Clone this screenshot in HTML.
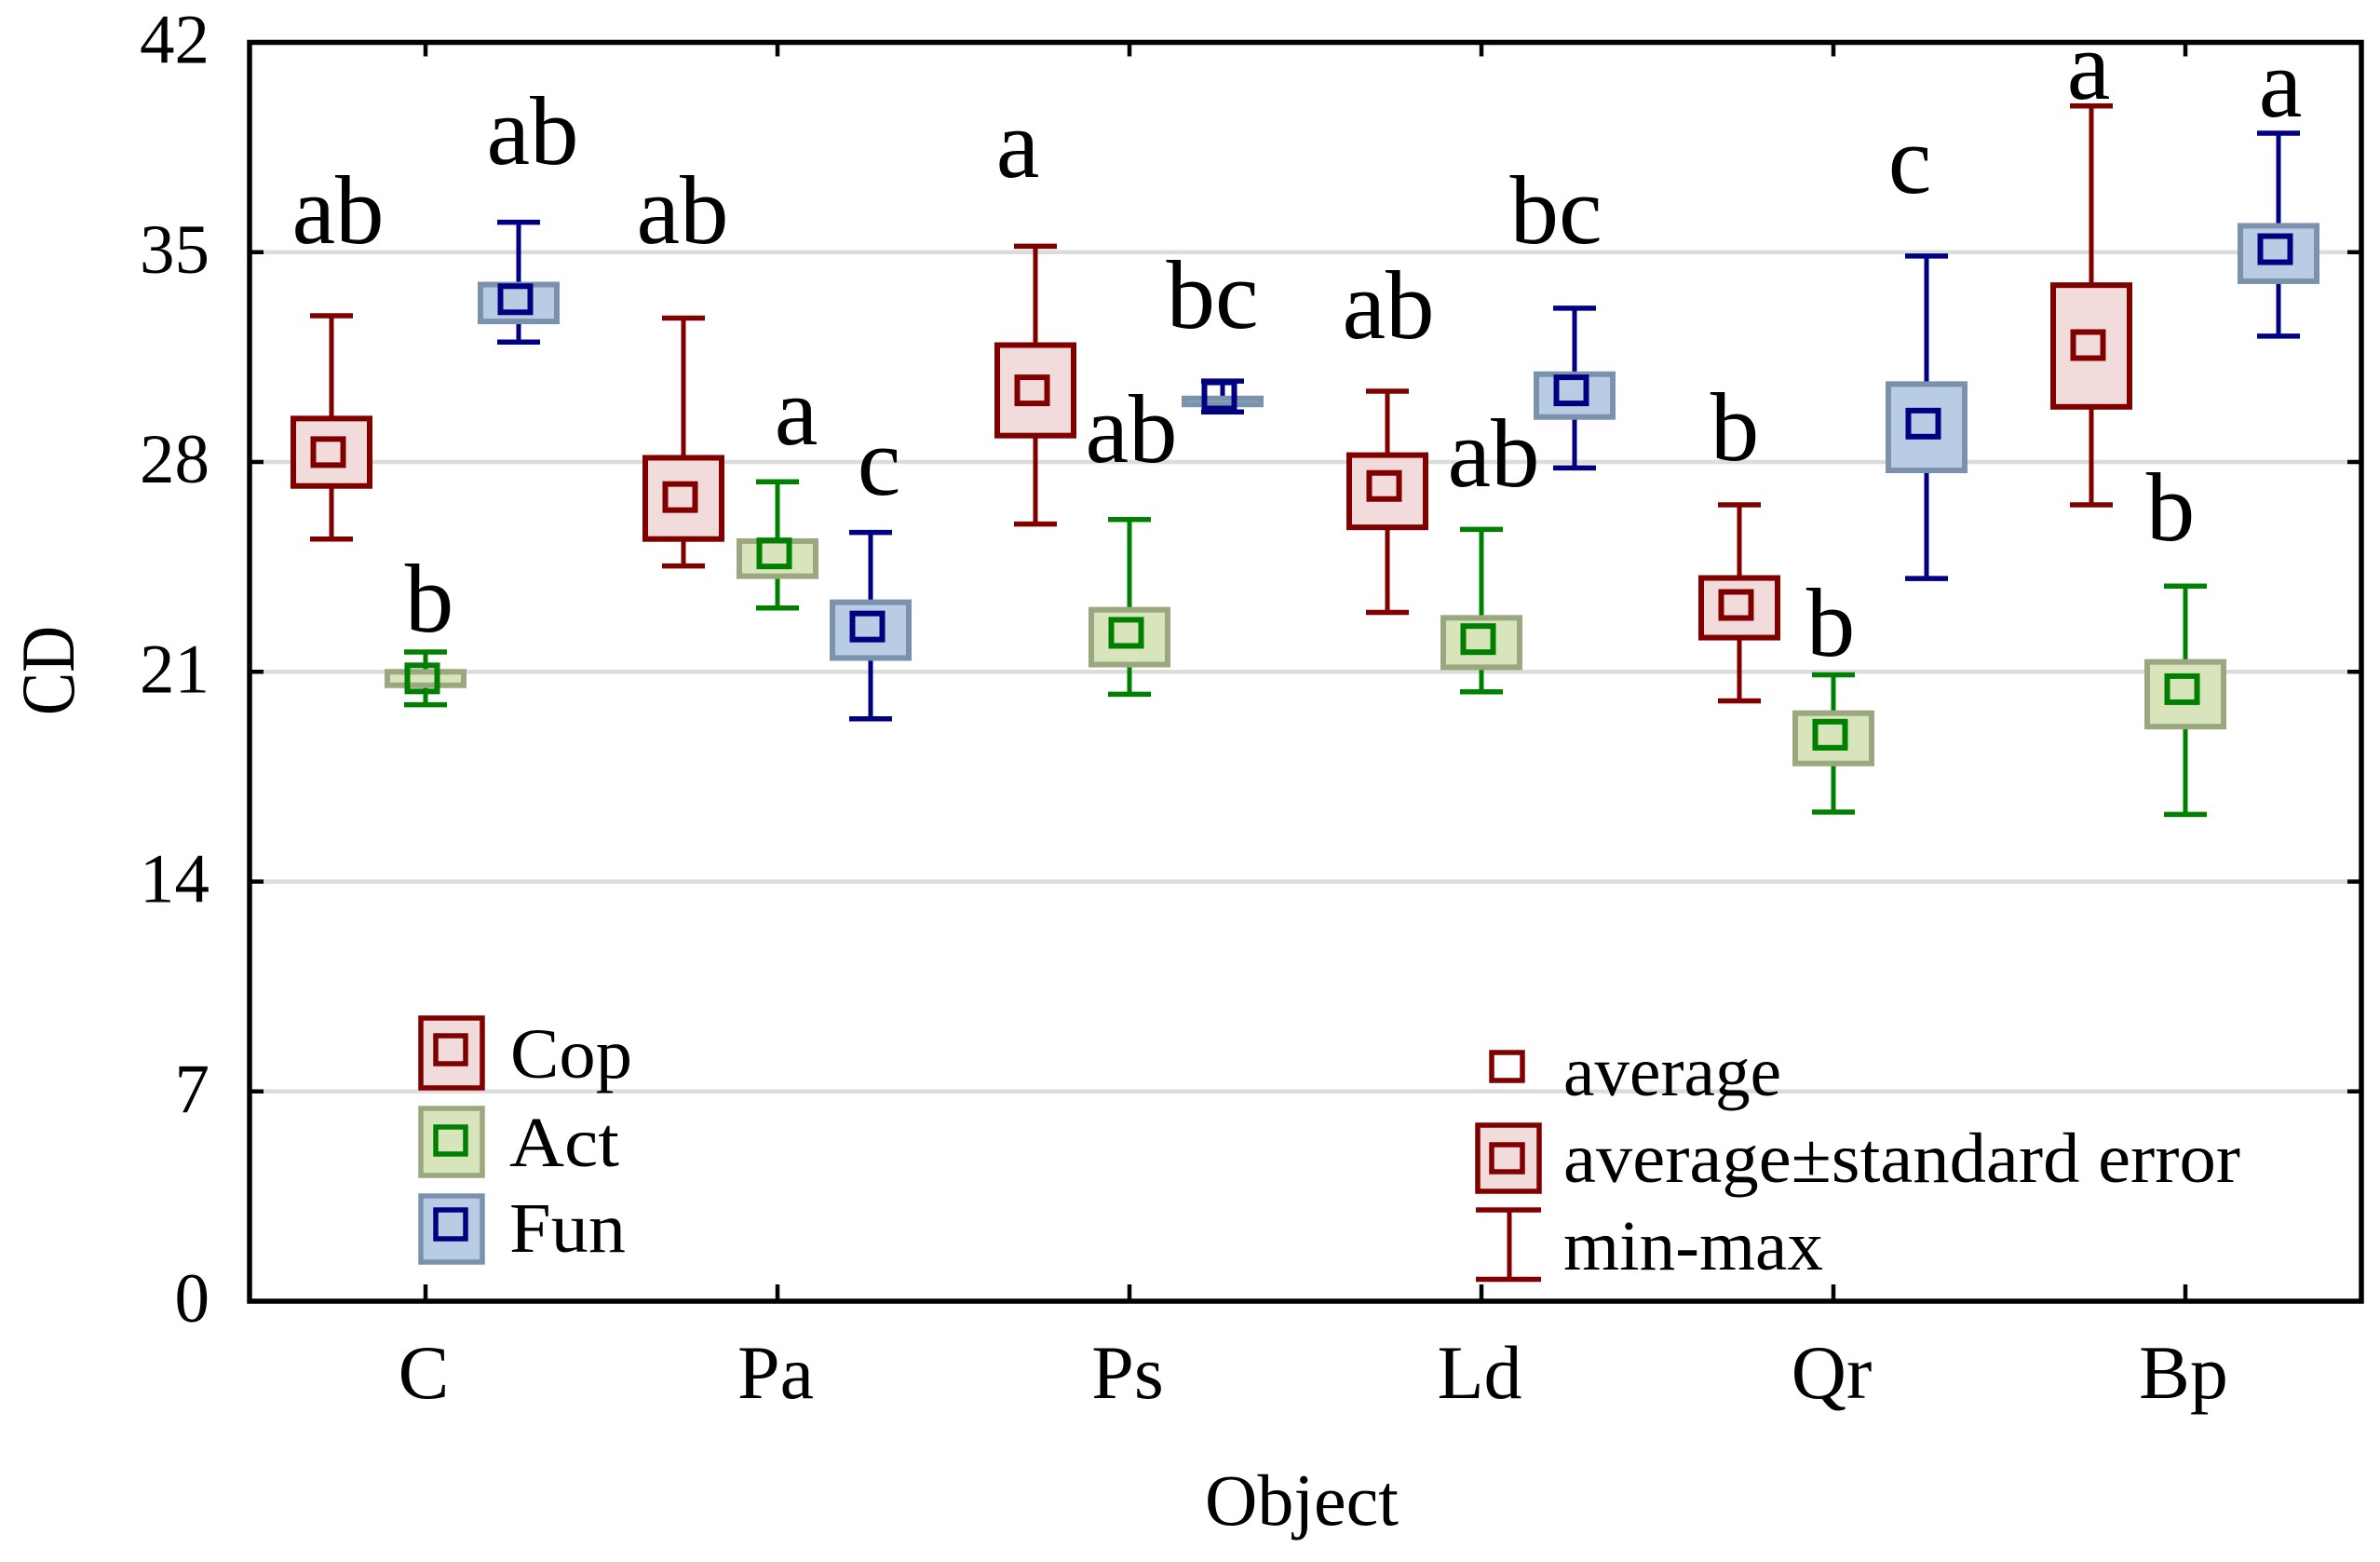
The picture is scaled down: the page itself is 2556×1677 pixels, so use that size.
<!DOCTYPE html>
<html lang="en">
<head>
<meta charset="utf-8">
<title>CD by object</title>
<style>
html,body{margin:0;padding:0;background:#fff;}
svg{display:block;}
text{font-family:"Liberation Serif",serif;fill:#000;}
.tick{font-size:75px;}
.cat{font-size:82px;text-anchor:middle;}
.leg{font-size:76px;}
.sig{font-size:105px;text-anchor:middle;}
</style>
</head>
<body>
<svg id="chart" xmlns="http://www.w3.org/2000/svg" width="2556" height="1677" viewBox="0 0 2556 1677">
  <rect x="0" y="0" width="2556" height="1677" fill="#fff"/>
  <g id="grid"></g>
  <g id="axes"></g>
  <g id="marks"></g>

  <text transform="translate(79,768) rotate(-90)" font-size="82" textLength="96" lengthAdjust="spacingAndGlyphs">CD</text>
  <text x="1294" y="1637" font-size="78" textLength="208" lengthAdjust="spacingAndGlyphs">Object</text>

  <g transform="translate(0,3)">
    <text class="sig" x="363" y="258">ab</text>
    <text class="sig" x="461" y="675">b</text>
    <text class="sig" x="572" y="173">ab</text>
    <text class="sig" x="733" y="258">ab</text>
    <text class="sig" x="855" y="474">a</text>
    <text class="sig" x="944" y="528">c</text>
    <text class="sig" x="1093" y="187">a</text>
    <text class="sig" x="1215" y="493">ab</text>
    <text class="sig" x="1302" y="349">bc</text>
    <text class="sig" x="1491" y="360">ab</text>
    <text class="sig" x="1604" y="519">ab</text>
    <text class="sig" x="1671" y="258">bc</text>
    <text class="sig" x="1863" y="491">b</text>
    <text class="sig" x="1966" y="701">b</text>
    <text class="sig" x="2051" y="204">c</text>
    <text class="sig" x="2243" y="103">a</text>
    <text class="sig" x="2331" y="577">b</text>
    <text class="sig" x="2449" y="122">a</text>
  </g>

  <g>
    <g>
      <rect x="452" y="1093" width="66" height="75" fill="#f2dcdb" stroke="#800000" stroke-width="5.5"/>
      <rect x="468" y="1112" width="32" height="30" fill="none" stroke="#800000" stroke-width="5.5"/>
      <text class="leg" x="548" y="1157" textLength="131" lengthAdjust="spacingAndGlyphs">Cop</text>
    </g>
    <g>
      <rect x="452" y="1190" width="66" height="72" fill="#d8e4bc" stroke="#9aa77f" stroke-width="5.5"/>
      <rect x="468" y="1210" width="32" height="29" fill="none" stroke="#008000" stroke-width="5.5"/>
      <text class="leg" x="547" y="1252" textLength="118" lengthAdjust="spacingAndGlyphs">Act</text>
    </g>
    <g>
      <rect x="452" y="1284" width="66" height="71" fill="#b8cce4" stroke="#7a92ad" stroke-width="5.5"/>
      <rect x="468" y="1299" width="32" height="31" fill="none" stroke="#000080" stroke-width="5.5"/>
      <text class="leg" x="547" y="1344" textLength="125" lengthAdjust="spacingAndGlyphs">Fun</text>
    </g>
  </g>

  <g>
    <g>
      <rect x="1602" y="1130" width="33" height="30" fill="none" stroke="#800000" stroke-width="5.5"/>
      <text class="leg" x="1679" y="1176" textLength="234" lengthAdjust="spacingAndGlyphs">average</text>
    </g>
    <g>
      <rect x="1587" y="1208" width="66" height="71" fill="#f2dcdb" stroke="#800000" stroke-width="5.5"/>
      <rect x="1602" y="1229" width="33" height="29" fill="none" stroke="#800000" stroke-width="5.5"/>
      <text class="leg" x="1679" y="1269" textLength="727" lengthAdjust="spacingAndGlyphs">average±standard error</text>
    </g>
    <g>
      <line x1="1585" x2="1655" y1="1299" y2="1299" stroke="#800000" stroke-width="5.5"/>
      <line x1="1585" x2="1655" y1="1373.5" y2="1373.5" stroke="#800000" stroke-width="5.5"/>
      <line x1="1621" x2="1621" y1="1299" y2="1373.5" stroke="#800000" stroke-width="5"/>
      <text class="leg" x="1679" y="1363" textLength="279" lengthAdjust="spacingAndGlyphs">min-max</text>
    </g>
  </g>
</svg>
<script>
const categories = ['C', 'Pa', 'Ps', 'Ld', 'Qr', 'Bp'];
const yTicks = [0, 7, 14, 21, 28, 35, 42];

const copMean = [28.33, 26.83, 30.39, 27.20, 23.23, 31.90];
const copSeHigh = [29.45, 28.14, 31.90, 28.23, 24.13, 33.90];
const copSeLow = [27.20, 25.43, 28.88, 25.82, 22.14, 29.84];
const copMax = [32.88, 32.80, 35.20, 30.36, 26.57, 39.88];
const copMin = [25.43, 24.53, 25.93, 22.98, 20.03, 26.57];

const actMean = [20.78, 24.95, 22.30, 22.09, 18.90, 20.42];
const actSeHigh = [21.00, 25.36, 23.07, 22.80, 19.62, 21.33];
const actSeLow = [20.55, 24.19, 21.24, 21.15, 17.94, 19.17];
const actMax = [21.66, 27.34, 26.08, 25.75, 20.90, 23.86];
const actMin = [19.90, 23.13, 20.25, 20.33, 16.32, 16.24];

const funMean = [33.43, 22.51, 30.22, 30.39, 29.28, 35.10];
const funSeHigh = [33.92, 23.32, 30.12, 30.93, 30.60, 35.88];
const funSeLow = [32.69, 21.46, 29.92, 29.50, 27.72, 34.03];
const funMax = [36.00, 25.65, 30.70, 33.13, 34.87, 38.97];
const funMin = [32.00, 19.43, 29.67, 27.80, 24.11, 32.20];

const NS = 'http://www.w3.org/2000/svg';
const plot = { left: 268, right: 2536, top: 45.5, bottom: 1397 };
const yMax = 42;

function yScale(v) {
  return plot.bottom - (v / yMax) * (plot.bottom - plot.top);
}
function xScale(i) {
  return plot.left + (i + 0.5) * (plot.right - plot.left) / categories.length;
}
function shape(parent, tag, attrs) {
  const el = document.createElementNS(NS, tag);
  Object.keys(attrs).forEach(function (k) { el.setAttribute(k, attrs[k]); });
  parent.appendChild(el);
  return el;
}

const gridLayer = document.getElementById('grid');
const axisLayer = document.getElementById('axes');
const markLayer = document.getElementById('marks');

yTicks.forEach(function (t) {
  const y = yScale(t);
  if (t > 0 && t < yMax) {
    const g = shape(gridLayer, 'line', { x1: plot.left, x2: plot.right, y1: y, y2: y, stroke: '#dcdcdc', 'stroke-width': 4.5 });
    
    
    const a = shape(axisLayer, 'line', { x1: plot.left, x2: plot.left + 15, y1: y, y2: y, stroke: '#000', 'stroke-width': 4.5 });
    
    
    const b = shape(axisLayer, 'line', { x1: plot.right - 15, x2: plot.right, y1: y, y2: y, stroke: '#000', 'stroke-width': 4.5 });
    
    
  }
  const label = shape(axisLayer, 'text', { x: 225, y: y + 22, class: 'tick', 'text-anchor': 'end' });
  label.textContent = String(t);
  
  
});

categories.forEach(function (c, i) {
  const x = xScale(i);
  const top = shape(axisLayer, 'line', { x1: x, x2: x, y1: plot.top, y2: plot.top + 15, stroke: '#000', 'stroke-width': 4.5 });
  
  
  const bottom = shape(axisLayer, 'line', { x1: x, x2: x, y1: plot.bottom - 18, y2: plot.bottom, stroke: '#000', 'stroke-width': 4.5 });
  
  
  const label = shape(axisLayer, 'text', { x: x - 2, y: 1501, class: 'cat' });
  label.textContent = c;
  
  
});

const frame = shape(axisLayer, 'rect', { x: plot.left, y: plot.top, width: plot.right - plot.left, height: plot.bottom - plot.top, fill: 'none', stroke: '#000', 'stroke-width': 5.5 });



function drawSeries(key, offset, mean, seHigh, seLow, max, min, line, fill, edge) {
  categories.forEach(function (c, i) {
    const x = xScale(i) + offset;
    const group = shape(markLayer, 'g', {});
    
    
    const yMaxPx = yScale(max[i]);
    const yMinPx = yScale(min[i]);
    shape(group, 'line', { x1: x, x2: x, y1: yMaxPx, y2: yMinPx, stroke: line, 'stroke-width': 5 });
    shape(group, 'line', { x1: x - 23, x2: x + 23, y1: yMaxPx, y2: yMaxPx, stroke: line, 'stroke-width': 5.5 });
    shape(group, 'line', { x1: x - 23, x2: x + 23, y1: yMinPx, y2: yMinPx, stroke: line, 'stroke-width': 5.5 });
    const yTop = yScale(seHigh[i]);
    const yBot = yScale(seLow[i]);
    shape(group, 'rect', { x: x - 41, y: yTop, width: 82, height: yBot - yTop, fill: fill, stroke: edge, 'stroke-width': 6 });
    const ym = yScale(mean[i]);
    shape(group, 'rect', { x: x - 19.5, y: ym - 14, width: 32, height: 28, fill: 'none', stroke: line, 'stroke-width': 6 });
  });
}

drawSeries('cop', -101, copMean, copSeHigh, copSeLow, copMax, copMin, '#800000', '#f2dcdb', '#800000');
drawSeries('act', 0, actMean, actSeHigh, actSeLow, actMax, actMin, '#008000', '#d8e4bc', '#9aa77f');
drawSeries('fun', 100, funMean, funSeHigh, funSeLow, funMax, funMin, '#000080', '#b8cce4', '#7a92ad');
</script>
</body>
</html>
